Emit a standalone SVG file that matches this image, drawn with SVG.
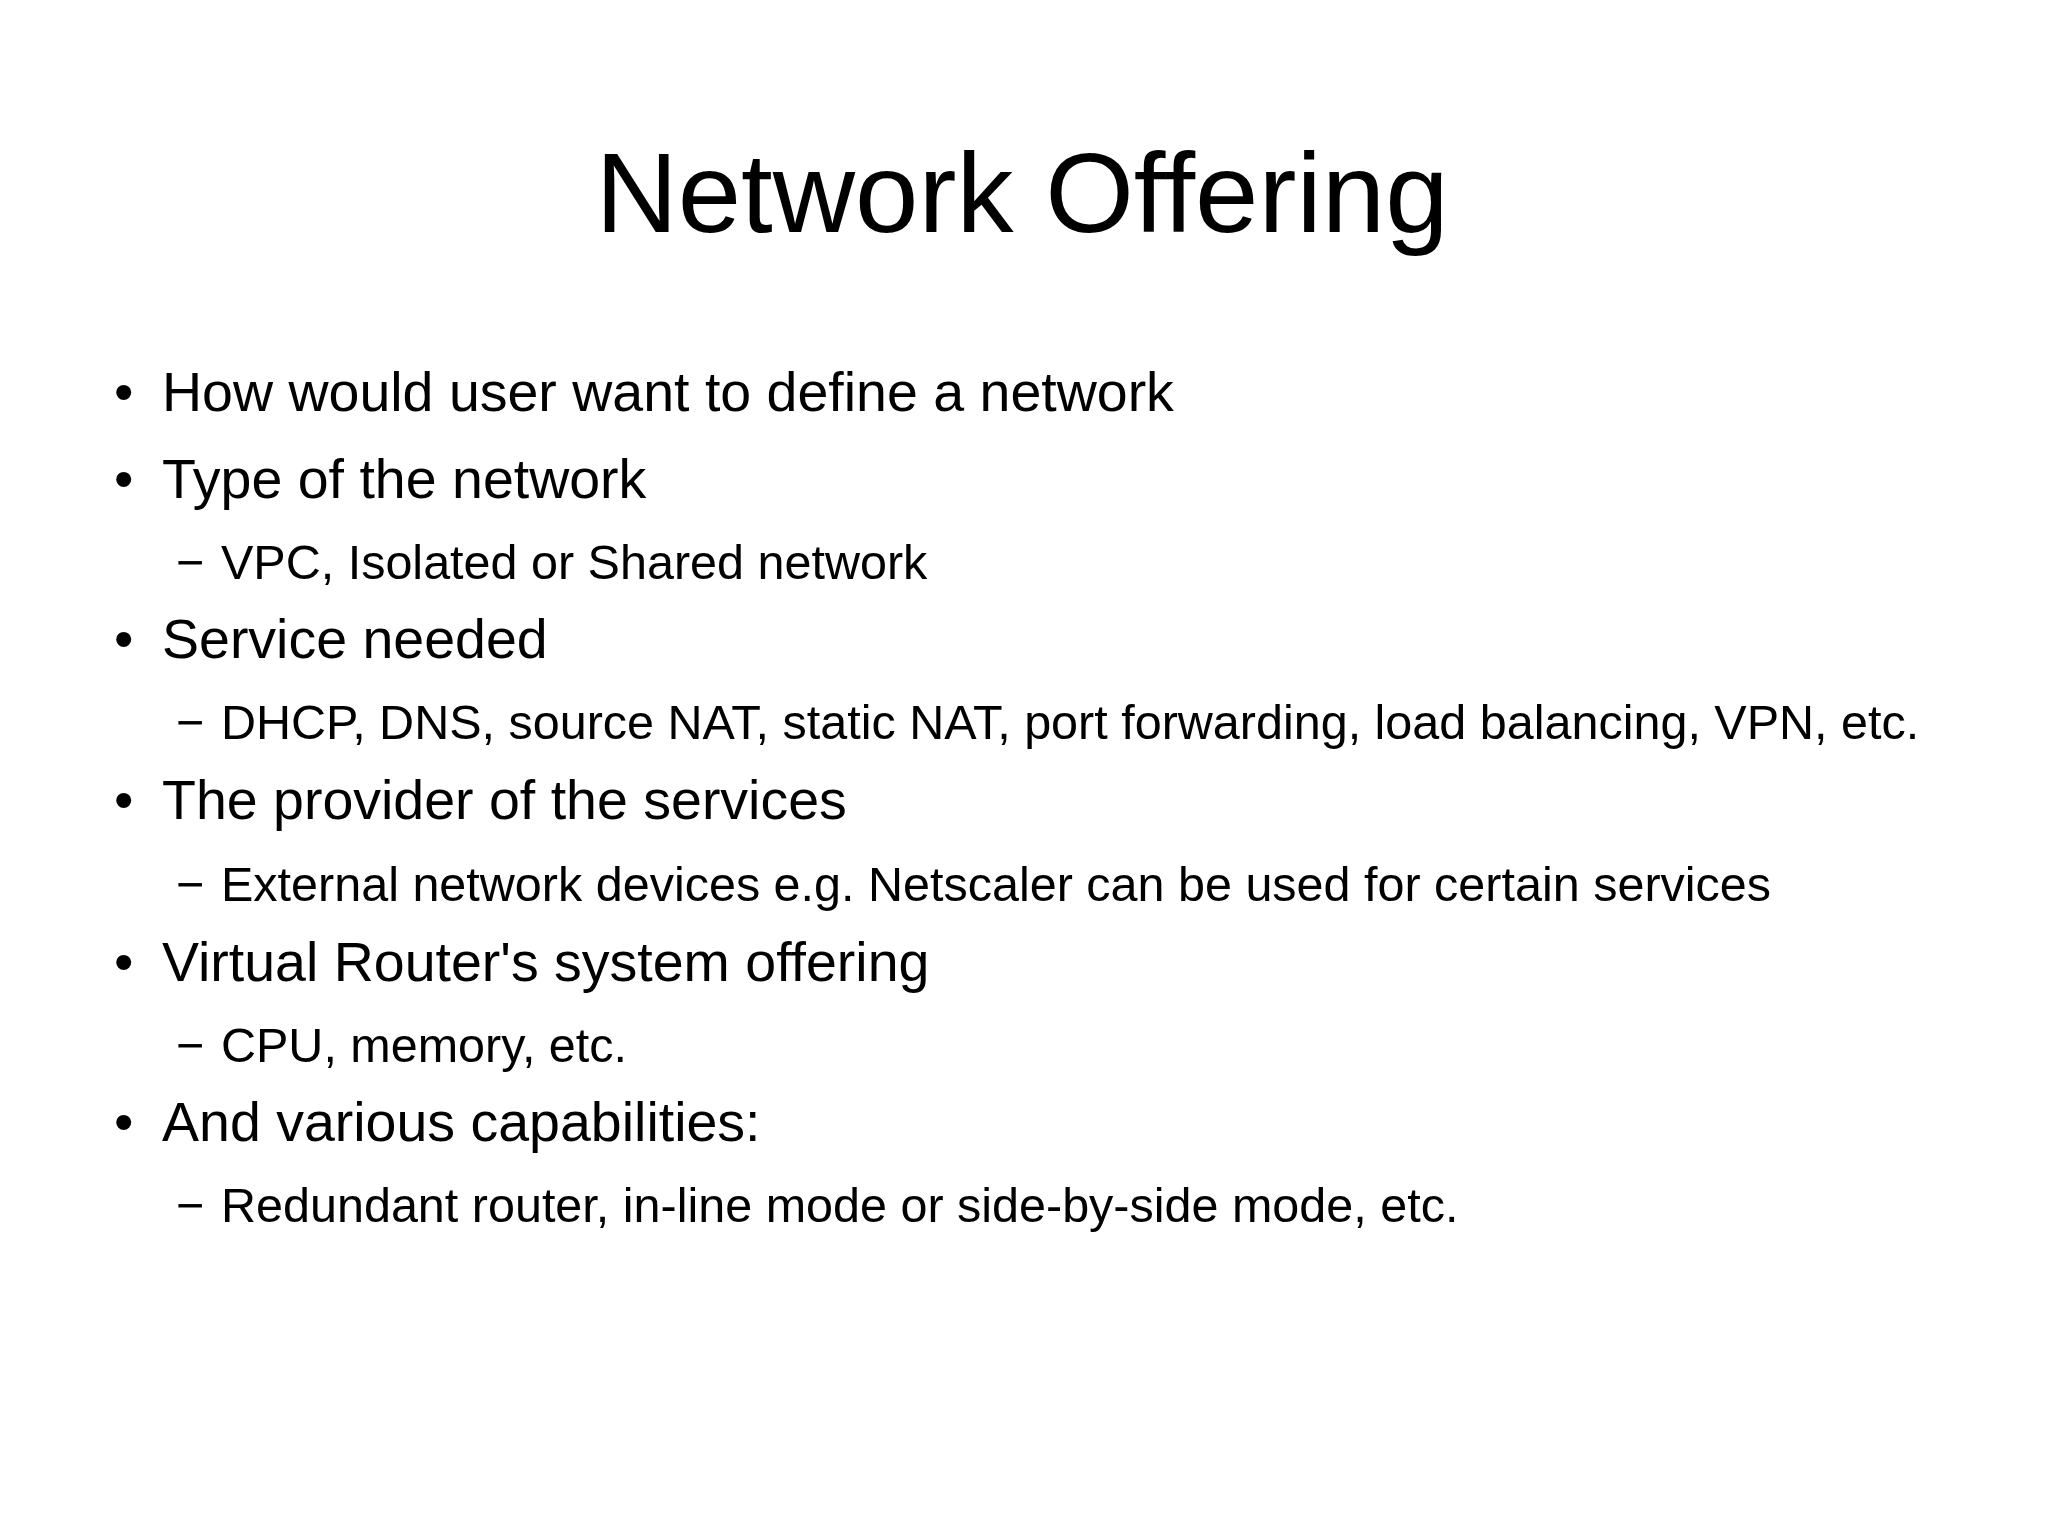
<svg xmlns="http://www.w3.org/2000/svg" width="2048" height="1535" viewBox="0 0 2048 1535">
<style>
text{font-family:"Liberation Sans",Arial,sans-serif;fill:#000}
.t{font-size:114px;text-anchor:middle}
.l1{font-size:55.5px}
.l2{font-size:48.5px}
</style>
<rect width="2048" height="1535" fill="#fff"/>
<text class="t" x="1022" y="232">Network Offering</text>
<g id="b1"><text class="l1" x="114" y="411">•</text><text class="l1" x="162" y="411">How would user want to define a network</text></g>
<g id="b2"><text class="l1" x="114" y="498">•</text><text class="l1" x="162" y="498">Type of the network</text></g>
<g id="s2"><text class="l2" x="176" y="579">−</text><text class="l2" x="221" y="579">VPC, Isolated or Shared network</text></g>
<g id="b3"><text class="l1" x="114" y="658">•</text><text class="l1" x="162" y="658">Service needed</text></g>
<g id="s3"><text class="l2" x="176" y="739">−</text><text class="l2" x="221" y="739">DHCP, DNS, source NAT, static NAT, port forwarding, load balancing, VPN, etc.</text></g>
<g id="b4"><text class="l1" x="114" y="819">•</text><text class="l1" x="162" y="819">The provider of the services</text></g>
<g id="s4"><text class="l2" x="176" y="901">−</text><text class="l2" x="221" y="901">External network devices e.g. Netscaler can be used for certain services</text></g>
<g id="b5"><text class="l1" x="114" y="981">•</text><text class="l1" x="162" y="981">Virtual Router's system offering</text></g>
<g id="s5"><text class="l2" x="176" y="1062">−</text><text class="l2" x="221" y="1062">CPU, memory, etc.</text></g>
<g id="b6"><text class="l1" x="114" y="1141">•</text><text class="l1" x="162" y="1141">And various capabilities:</text></g>
<g id="s6"><text class="l2" x="176" y="1222">−</text><text class="l2" x="221" y="1222">Redundant router, in-line mode or side-by-side mode, etc.</text></g>
</svg>
